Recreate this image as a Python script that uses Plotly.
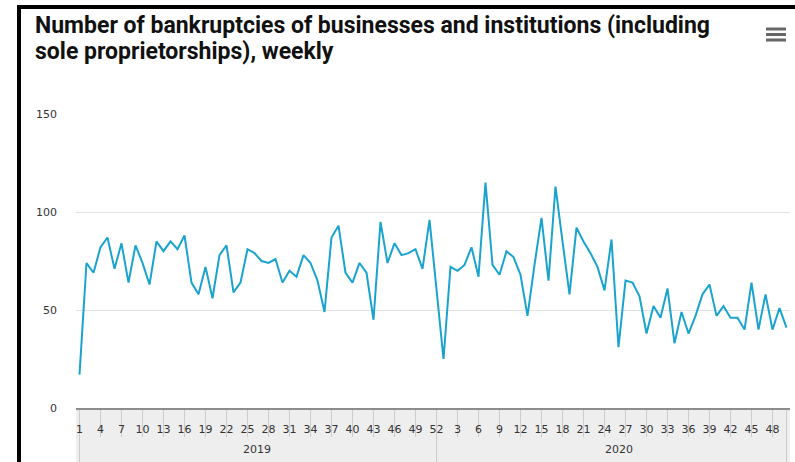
import plotly.graph_objects as go

# ---------------- data ----------------
years = ["2019", "2020"]
weeks_2019 = list(range(1, 53))
weeks_2020 = list(range(1, 51))
bankruptcies_2019 = [17, 74, 69, 82, 87, 71, 84, 64, 83, 74, 63, 85, 80, 85, 81, 88,
                     64, 58, 72, 56, 78, 83, 59, 64, 81, 79, 75, 74, 76, 64, 70, 67,
                     78, 74, 65, 49, 87, 93, 69, 64, 74, 69, 45, 95, 74, 84, 78, 79,
                     81, 71, 96, 60]
bankruptcies_2020 = [25, 72, 70, 73, 82, 67, 115, 73, 68, 80, 77, 68, 47, 73, 97, 65,
                     113, 85, 58, 92, 85, 79, 72, 60, 86, 31, 65, 64, 57, 38, 52, 46,
                     61, 33, 49, 38, 47, 58, 63, 47, 52, 46, 46, 40, 64, 40, 58, 40,
                     51, 41]
y_ticks = [0, 50, 100, 150]
title_lines = ["Number of bankruptcies of businesses and institutions (including",
               "sole proprietorships), weekly"]

week_labels = weeks_2019 + weeks_2020
values = bankruptcies_2019 + bankruptcies_2020
idx = list(range(len(values)))
tick_idx = idx[::3]
tick_text = [str(week_labels[i]) for i in tick_idx]
group_bounds = [0, len(weeks_2019) - 1, len(values) - 1]

# ---------------- geometry helpers (style only) ----------------
W, H = 795, 462
L, R, T, B = 76, 5, 114, 54
PW, PH = W - L - R, H - T - B


def px(xp):
    return (xp - L) / PW


def py(yp):
    return (H - B - yp) / PH


FONT = "DejaVu Sans, Verdana, sans-serif"
LINE_COLOR = "#1aa3cf"

fig = go.Figure(
    go.Scatter(x=idx, y=values, mode="lines",
               line=dict(color=LINE_COLOR, width=2), hoverinfo="skip")
)

shapes = []
# grey category band below the plot
shapes.append(dict(type="rect", xref="paper", yref="paper", x0=0, x1=1,
                   y0=py(H + 2), y1=0, fillcolor="#eeeeee",
                   line=dict(width=0), layer="below"))
# tick separators in the week row
for t in tick_idx:
    shapes.append(dict(type="line", xref="x", yref="paper", x0=t, x1=t,
                       y0=0, y1=py(437), line=dict(color="#cccccc", width=1),
                       layer="below"))
# year group boundaries
for g in group_bounds:
    shapes.append(dict(type="line", xref="x", yref="paper", x0=g, x1=g,
                       y0=0, y1=py(H + 2), line=dict(color="#cccccc", width=1),
                       layer="below"))
# black frame (top and left)
shapes.append(dict(type="line", xref="paper", yref="paper", x0=px(17), x1=px(W + 5),
                   y0=py(7), y1=py(7), line=dict(color="#000000", width=4)))
shapes.append(dict(type="line", xref="paper", yref="paper", x0=px(19), x1=px(19),
                   y0=py(5), y1=py(H + 5), line=dict(color="#000000", width=4)))
# hamburger menu icon
for yy in (29, 34.5, 40):
    shapes.append(dict(type="line", xref="paper", yref="paper", x0=px(766), x1=px(786),
                       y0=py(yy), y1=py(yy), line=dict(color="#666666", width=3)))

annotations = []
# chart title (two lines)
for line_text, yc in zip(title_lines, (26, 51)):
    annotations.append(dict(text=line_text, x=px(33), xref="paper", y=py(yc), yref="paper",
                            showarrow=False, xanchor="left", yanchor="middle", align="left",
                            font=dict(family="Roboto, Lato, sans-serif", size=23,
                                      color="#111111", weight="bold")))
year_pos = [25.3, 77.1]
for yr, xc in zip(years, year_pos):
    annotations.append(dict(text=yr, x=xc, xref="x", y=py(449), yref="paper",
                            showarrow=False, xanchor="center", yanchor="middle",
                            font=dict(family=FONT, size=11, color="#333333")))

fig.update_layout(
    width=W, height=H,
    margin=dict(l=L, r=R, t=T, b=B, pad=0),
    paper_bgcolor="white", plot_bgcolor="white",
    showlegend=False,
    xaxis=dict(range=[-0.5, len(values) - 0.5], tickvals=tick_idx, ticktext=tick_text,
               tickfont=dict(family=FONT, size=11, color="#333333"),
               showgrid=False, zeroline=False, ticks="",
               showline=True, linecolor="#8c8c8c", linewidth=2,
               ticklabelstandoff=10, fixedrange=True),
    yaxis=dict(range=[0, 150], tickvals=y_ticks,
               tickfont=dict(family=FONT, size=11, color="#333333"),
               showgrid=True, gridcolor="#e3e3e3", gridwidth=1,
               zeroline=False, showline=False, ticks="",
               ticklabelstandoff=18, fixedrange=True),
    shapes=shapes,
    annotations=annotations,
)

fig.write_html("out.html", config={"displayModeBar": False},
               post_script="document.body.style.margin='0';"
                           "document.body.style.overflow='hidden';")
